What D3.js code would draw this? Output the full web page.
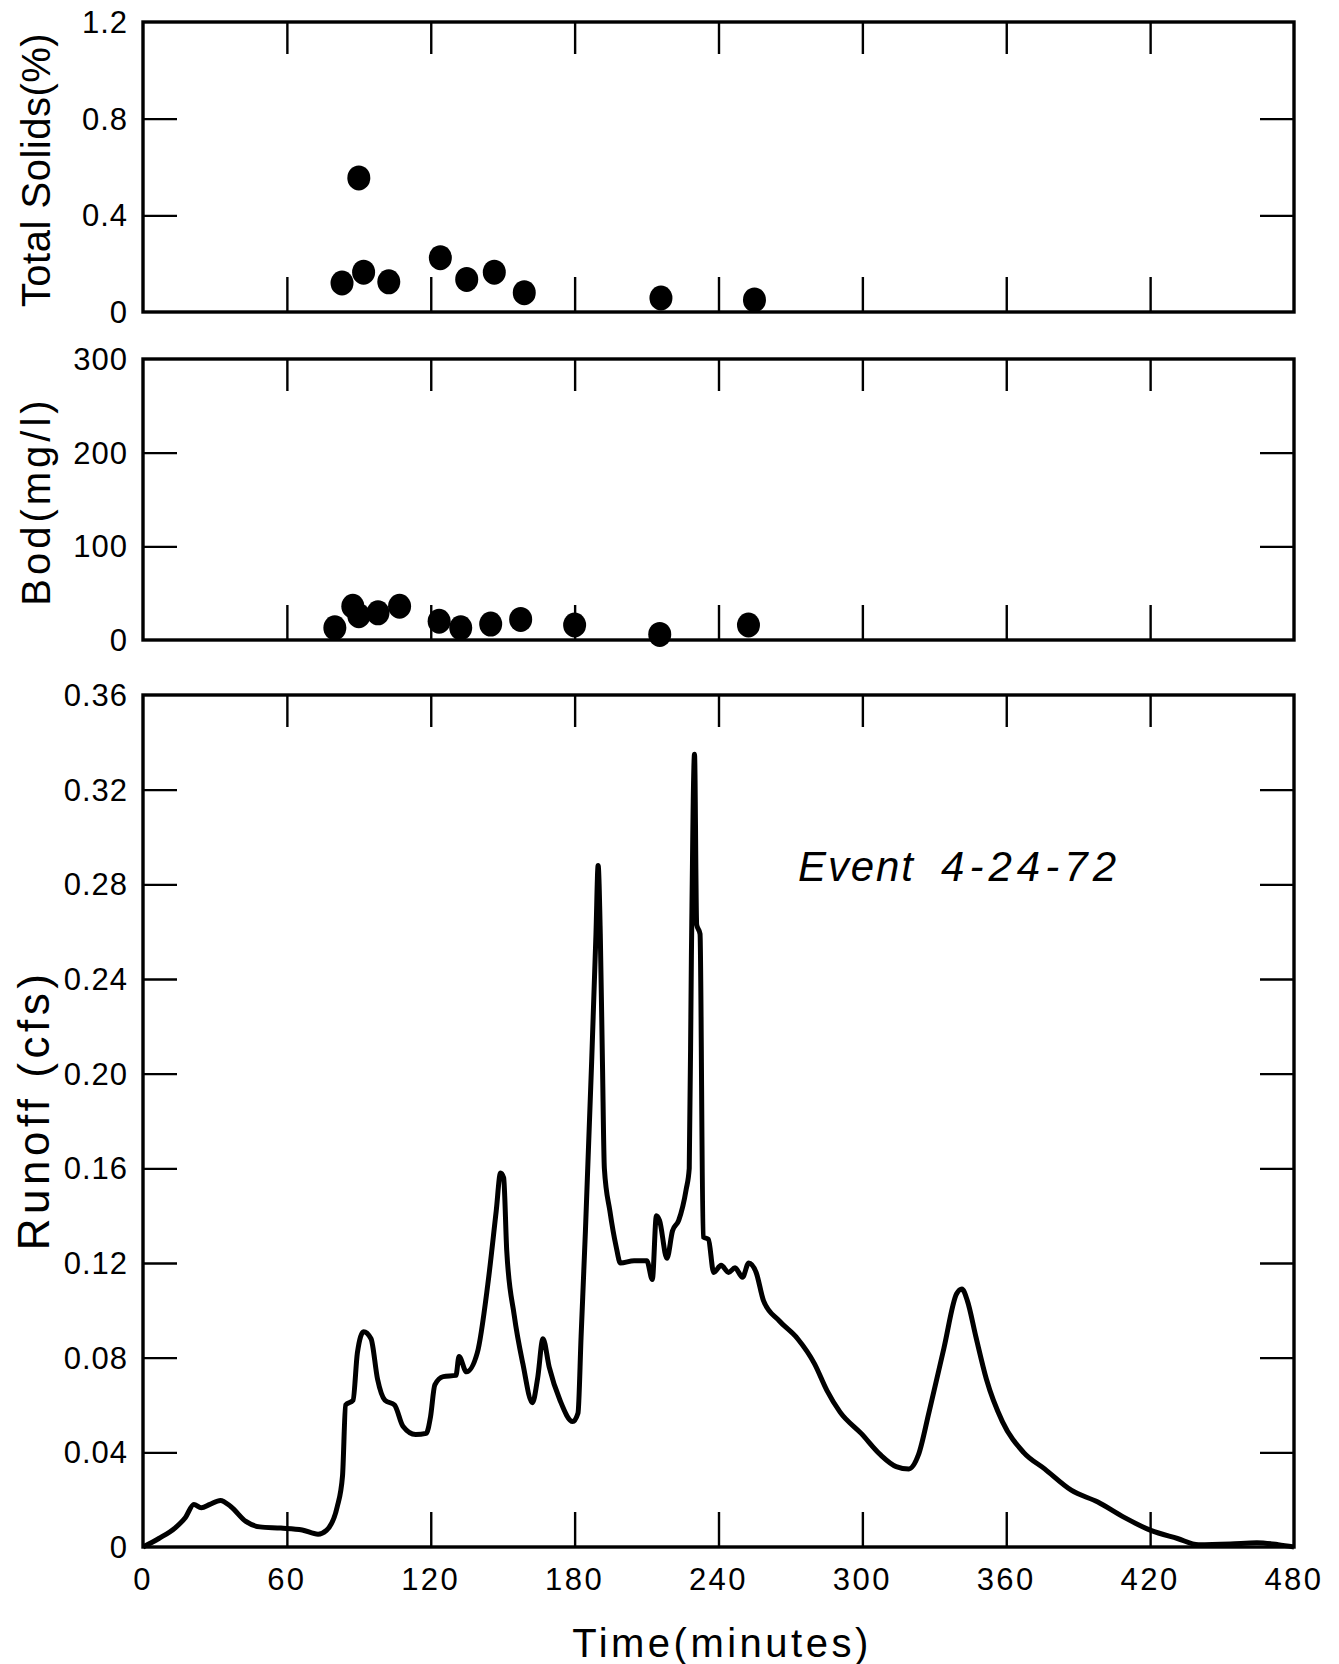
<!DOCTYPE html>
<html>
<head>
<meta charset="utf-8">
<script src="https://cdn.jsdelivr.net/npm/d3@7"></script>
<style>
  body { margin: 0; background: #fff; }
  text { font-family: "Liberation Sans", "DejaVu Sans", sans-serif; fill: #000; }
</style>
</head>
<body>
<div id="chart"></div>
<script>
// time ticks shared by all three panels
var timeTicks = [0, 60, 120, 180, 240, 300, 360, 420, 480];

// total solids samples (minutes, %)
var solidsTime = [83, 90, 92, 102.5, 124, 135, 146.5, 159, 216, 255];
var solidsVal  = [0.12, 0.555, 0.165, 0.125, 0.225, 0.135, 0.165, 0.08, 0.058, 0.05];
var solidsTicks = [0, 0.4, 0.8, 1.2];

// bod samples (minutes, mg/l)
var bodTime = [80, 87.5, 90, 98, 107, 123.5, 132.5, 145, 157.5, 180, 215.5, 252.5];
var bodVal  = [13, 36, 26, 29, 36, 20, 13, 17, 22, 16, 6, 16];
var bodTicks = [0, 100, 200, 300];

// runoff hydrograph (minutes, cfs)
var runTime = [0, 6.6, 13.3, 17.7, 21.2, 24.3, 27.9, 32.3, 36.7, 42.9, 48.7, 57.5, 66.4, 73, 76.5,
  81, 83.2, 84.5, 87.6, 89.4, 92, 95.1, 97.8, 100.9, 104.9, 108.4, 113.7, 118.1, 119.9, 121.7,
  125.2, 130.5, 131.8, 134.9, 139.4, 143.8, 147.3, 149.1, 150.4, 151.7, 154.8, 158.4, 162.4,
  164.6, 166.8, 169.4, 173.9, 179.2, 181.4, 182.7, 184.5, 187.1, 188.9, 189.8, 190.7, 191.6,
  192.4, 194.7, 197.3, 199.1, 204.8, 210.1, 212.4, 214.1, 215.4, 218.5, 220.8, 223.4, 226.5,
  227.8, 228.7, 230, 230.9, 232.3, 233.6, 235.8, 238, 241.1, 244.2, 246.9, 250, 252.6, 255.7,
  258.8, 265.4, 273, 280, 285.3, 290.7, 299.5, 307.5, 314.1, 319.4, 323.4, 327.8, 334, 339.3,
  341.5, 343.8, 347.3, 351.7, 358.4, 367.2, 376, 387.1, 398.2, 409.2, 420.3, 431.4, 440.2,
  453.5, 464.5, 473.4, 480];
var runVal = [0, 0.0036, 0.008, 0.0125, 0.018, 0.0166, 0.018, 0.0197, 0.017, 0.0108, 0.0085, 0.008,
  0.0072, 0.0054, 0.007, 0.017, 0.030, 0.060, 0.062, 0.082, 0.091, 0.088, 0.071, 0.062, 0.060,
  0.051, 0.0475, 0.048, 0.055, 0.0685, 0.072, 0.0725, 0.0805, 0.074, 0.082, 0.111, 0.142, 0.158,
  0.156, 0.125, 0.098, 0.0775, 0.061, 0.0715, 0.088, 0.076, 0.062, 0.053, 0.0565, 0.089, 0.1335,
  0.205, 0.259, 0.288, 0.259, 0.205, 0.160, 0.142, 0.127, 0.120, 0.121, 0.121, 0.113, 0.140,
  0.138, 0.122, 0.1335, 0.138, 0.151, 0.160, 0.250, 0.335, 0.263, 0.259, 0.131, 0.130, 0.116,
  0.119, 0.116, 0.118, 0.114, 0.120, 0.116, 0.104, 0.0955, 0.088, 0.0775, 0.066, 0.057, 0.048,
  0.039, 0.034, 0.033, 0.039, 0.057, 0.084, 0.107, 0.109, 0.104, 0.089, 0.071, 0.053, 0.040,
  0.033, 0.024, 0.019, 0.0125, 0.007, 0.0036, 0.001, 0.0013, 0.0018, 0.001, 0];
var runTicks = [0, 0.04, 0.08, 0.12, 0.16, 0.20, 0.24, 0.28, 0.32, 0.36];

var width = 1339, height = 1664;
var left = 143, right = 1294;

var svg = d3.select("#chart").append("svg")
    .attr("width", width)
    .attr("height", height);

var x = d3.scaleLinear().domain([0, 480]).range([left, right]);

function panel(top, bottom, ymax, yTicks, fmt, xLabels) {
    var y = d3.scaleLinear().domain([0, ymax]).range([bottom, top]);
    var g = svg.append("g");
    var inner = yTicks.filter(function (d) { return d > 0 && d < ymax; });
    var midX = timeTicks.filter(function (d) { return d > 0 && d < 480; });

    // inward ticks, top and bottom
    var xb = g.append("g").attr("transform", "translate(0," + bottom + ")")
        .call(d3.axisBottom(x).tickValues(midX).tickSize(-35).tickFormat(""));
    var xt = g.append("g").attr("transform", "translate(0," + top + ")")
        .call(d3.axisTop(x).tickValues(midX).tickSize(-32).tickFormat(""));
    var yl = g.append("g").attr("transform", "translate(" + left + ",0)")
        .call(d3.axisLeft(y).tickValues(inner).tickSize(-34).tickFormat(""));
    var yr = g.append("g").attr("transform", "translate(" + right + ",0)")
        .call(d3.axisRight(y).tickValues(inner).tickSize(-34).tickFormat(""));
    [xb, xt, yl, yr].forEach(function (a) {
        a.select(".domain").remove();
        a.selectAll("line").attr("stroke", "#000").attr("stroke-width", 2.4);
    });

    // tick labels on the left
    g.selectAll("text.ylab").data(yTicks).enter().append("text")
        .attr("x", left - 15)
        .attr("y", function (d) { return y(d); })
        .attr("dy", "0.36em")
        .attr("text-anchor", "end")
        .style("font-size", "31px")
        .style("letter-spacing", "1px")
        .text(fmt);

    if (xLabels) {
        g.selectAll("text.xlab").data(timeTicks).enter().append("text")
            .attr("x", function (d) { return x(d); })
            .attr("y", bottom + 43)
            .attr("text-anchor", "middle")
            .style("font-size", "31px")
            .style("letter-spacing", "2.5px")
            .text(function (d) { return d; });
    }

    g.append("rect")
        .attr("x", left).attr("y", top)
        .attr("width", right - left).attr("height", bottom - top)
        .attr("fill", "none").attr("stroke", "#000").attr("stroke-width", 3.4);
    return y;
}

// panel 1 - total solids
var y1 = panel(22, 312, 1.2, solidsTicks, function (d) { return d === 0 ? "0" : d3.format(".1f")(d); }, false);
svg.append("g").selectAll("ellipse").data(solidsTime).enter().append("ellipse")
    .attr("cx", function (d) { return x(d); })
    .attr("cy", function (d, i) { return y1(solidsVal[i]); })
    .attr("rx", 11.5).attr("ry", 12.5).attr("fill", "#000");

// panel 2 - bod
var y2 = panel(359, 640, 300, bodTicks, function (d) { return d; }, false);
svg.append("g").selectAll("ellipse").data(bodTime).enter().append("ellipse")
    .attr("cx", function (d) { return x(d); })
    .attr("cy", function (d, i) { return y2(bodVal[i]); })
    .attr("rx", 11.5).attr("ry", 12.5).attr("fill", "#000");

// panel 3 - runoff
var y3 = panel(695, 1547, 0.36, runTicks, function (d) { return d === 0 ? "0" : d3.format(".2f")(d); }, true);
var line = d3.line()
    .x(function (d) { return x(d); })
    .y(function (d, i) { return y3(runVal[i]); })
    .curve(d3.curveMonotoneX);
svg.append("path")
    .datum(runTime)
    .attr("d", line)
    .attr("fill", "none")
    .attr("stroke", "#000")
    .attr("stroke-width", 5)
    .attr("stroke-linejoin", "round");

var ev = svg.append("text")
    .attr("y", 881)
    .style("font-size", "42px").style("font-style", "italic");
ev.append("tspan").attr("x", 798).attr("textLength", 115).attr("lengthAdjust", "spacing").text("Event");
ev.append("tspan").attr("x", 941).attr("textLength", 175).attr("lengthAdjust", "spacing").text("4-24-72");

// axis titles
function ytitle(cy, txt, fs, sp, bx) {
    svg.append("text")
        .attr("transform", "translate(" + bx + "," + cy + ") rotate(-90)")
        .attr("text-anchor", "middle")
        .style("font-size", fs + "px")
        .style("letter-spacing", sp + "px")
        .text(txt);
}
ytitle(170, "Total Solids(%)", 40, 0.5, 50);
ytitle(501, "Bod(mg/l)", 40, 4, 50);
ytitle(1110, "Runoff (cfs)", 44, 4.5, 49);

svg.append("text")
    .attr("x", 722).attr("y", 1657)
    .attr("text-anchor", "middle")
    .style("font-size", "40px")
    .style("letter-spacing", "3.5px")
    .text("Time(minutes)");
</script>
</body>
</html>
